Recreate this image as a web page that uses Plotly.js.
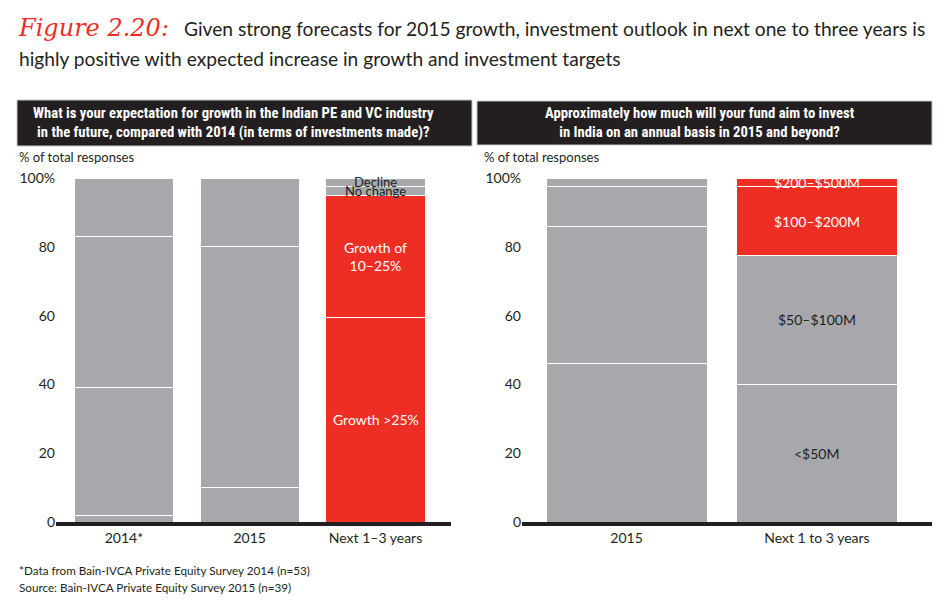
<!DOCTYPE html>
<html>
<head>
<meta charset="utf-8">
<script src="https://cdn.plot.ly/plotly-3.0.1.min.js"></script>
<style>
  html, body { margin: 0; padding: 0; background: #fff; }
  #chart { width: 950px; height: 604px; }
</style>
</head>
<body>
<div id="chart"></div>
<script>
// Left panel: expectation for growth (% of total responses)
const growthCats = ["2014*", "2015", "Next 1–3 years"];
const growthSeries = ["Growth >25%", "Growth of<br>10–25%", "No change", "Decline"];
const growthAbove25 = [2, 10, 59.5];
const growth10to25 = [37, 70, 35.5];
const noChange = [44, 20, 2.5];
const decline = [17, 0, 2.5];

// Right panel: annual investment aim (% of total responses)
const investCats = ["2015", "Next 1 to 3 years"];
const investSeries = ["<$50M", "$50–$100M", "$100–$200M", "$200–$500M"];
const under50 = [46, 40];
const from50to100 = [40, 37.5];
const from100to200 = [11.5, 20];
const from200to500 = [2.5, 2.5];

const yTicks = [0, 20, 40, 60, 80, 100];
const yTickText = ["0", "20", "40", "60", "80", "100%"];

const GREY = "#a7a8ac";
const RED = "#ee2e24";
const DARK = "#231f20";
const FONT = "Lato, 'Open Sans', sans-serif";
const NARROW = "'Liberation Sans Narrow', 'Roboto Condensed', sans-serif";

const px = x => x / 950;
const py = y => 1 - y / 604;

// which segments are red (the rest grey)
const growthRed = [[false, false, true], [false, false, true], [false, false, false], [false, false, false]];
const investRed = [[false, false], [false, false], [false, true], [false, true]];

const traces = [];
const annotations = [];

function addStack(series, values, cats, redMap, xa, ya, width, labelOn, darkLabels, sizes) {
  const base = cats.map(() => 0);
  series.forEach((name, i) => {
    traces.push({
      type: "bar",
      name: name,
      x: cats,
      y: values[i],
      xaxis: xa,
      yaxis: ya,
      width: width,
      marker: {
        color: redMap[i].map(r => r ? RED : GREY),
        line: { color: "#ffffff", width: 1 }
      },
      hoverinfo: "none",
      showlegend: false
    });
    const mid = base[labelOn] + values[i][labelOn] / 2;
    annotations.push({
      xref: xa, yref: ya,
      x: cats[labelOn], y: mid,
      text: name,
      showarrow: false,
      font: { family: FONT, size: sizes[i], color: darkLabels[i] ? DARK : "#ffffff" }
    });
    cats.forEach((c, k) => { base[k] += values[i][k]; });
  });
}

addStack(growthSeries, [growthAbove25, growth10to25, noChange, decline], growthCats,
  growthRed, "x", "y", 0.79, 2, [false, false, true, true], [14, 14, 13, 13]);
addStack(investSeries, [under50, from50to100, from100to200, from200to500], investCats,
  investRed, "x2", "y2", 0.845, 1, [true, true, false, false], [14, 14, 14, 14]);

// headers and notes
annotations.push(
  { xref: "paper", yref: "paper", x: px(16), y: py(28), xanchor: "left", yanchor: "middle",
    text: "Figure 2.20:", showarrow: false,
    font: { family: "'DejaVu Serif', serif", size: 24, color: RED, style: "italic" } },
  { xref: "paper", yref: "paper", x: px(182), y: py(28), xanchor: "left", yanchor: "middle",
    text: "Given strong forecasts for 2015 growth, investment outlook in next one to three years is",
    showarrow: false, font: { family: FONT, size: 19.2, color: DARK } },
  { xref: "paper", yref: "paper", x: px(17), y: py(58), xanchor: "left", yanchor: "middle",
    text: "highly positive with expected increase in growth and investment targets",
    showarrow: false, font: { family: FONT, size: 19.2, color: DARK } },
  { xref: "paper", yref: "paper", x: px(233), y: py(122), xanchor: "center", yanchor: "middle",
    text: "<b>What is your expectation for growth in the Indian PE and VC industry<br>in the future, compared with 2014 (in terms of investments made)?</b>",
    showarrow: false, font: { family: NARROW, size: 14.7, color: "#ffffff" } },
  { xref: "paper", yref: "paper", x: px(700), y: py(122), xanchor: "center", yanchor: "middle",
    text: "<b>Approximately how much will your fund aim to invest<br>in India on an annual basis in 2015 and beyond?</b>",
    showarrow: false, font: { family: NARROW, size: 14.7, color: "#ffffff" } },
  { xref: "paper", yref: "paper", x: px(17), y: py(157), xanchor: "left", yanchor: "middle",
    text: "% of total responses", showarrow: false, font: { family: FONT, size: 13, color: DARK } },
  { xref: "paper", yref: "paper", x: px(482), y: py(157), xanchor: "left", yanchor: "middle",
    text: "% of total responses", showarrow: false, font: { family: FONT, size: 13, color: DARK } },
  { xref: "paper", yref: "paper", x: px(17), y: py(570), xanchor: "left", yanchor: "middle",
    text: "*Data from Bain-IVCA Private Equity Survey 2014 (n=53)", showarrow: false,
    font: { family: FONT, size: 11.7, color: DARK } },
  { xref: "paper", yref: "paper", x: px(17), y: py(587), xanchor: "left", yanchor: "middle",
    text: "Source: Bain-IVCA Private Equity Survey 2015 (n=39)", showarrow: false,
    font: { family: FONT, size: 11.7, color: DARK } }
);

const shapes = [
  { type: "rect", xref: "paper", yref: "paper", x0: px(17), x1: px(472), y0: py(146), y1: py(100),
    fillcolor: DARK, line: { color: "#c8c8c8", width: 1 } },
  { type: "rect", xref: "paper", yref: "paper", x0: px(477), x1: px(932), y0: py(145), y1: py(101),
    fillcolor: DARK, line: { color: "#c8c8c8", width: 1 } }
];

const xBase = {
  type: "category",
  showline: true, linecolor: DARK, linewidth: 4,
  ticks: "", showgrid: false, zeroline: false,
  tickfont: { family: FONT, size: 14, color: DARK },
  fixedrange: true
};
const yBase = {
  range: [0, 100], tickvals: yTicks, ticktext: yTickText,
  showline: false, showgrid: false, zeroline: false, ticks: "",
  tickfont: { family: FONT, size: 14, color: DARK },
  fixedrange: true
};

const layout = {
  width: 950, height: 604,
  margin: { l: 0, r: 0, t: 0, b: 0 },
  paper_bgcolor: "#ffffff", plot_bgcolor: "#ffffff",
  barmode: "stack",
  font: { family: FONT, color: DARK },
  xaxis: Object.assign({}, xBase, { domain: [px(56), px(451)], range: [-0.54, 2.6], anchor: "y" }),
  yaxis: Object.assign({}, yBase, { domain: [py(522), py(178)], anchor: "x" }),
  xaxis2: Object.assign({}, xBase, { domain: [px(522), px(932)], range: [-0.549, 1.604], anchor: "y2" }),
  yaxis2: Object.assign({}, yBase, { domain: [py(522), py(178)], anchor: "x2" }),
  annotations: annotations,
  shapes: shapes
};

Plotly.newPlot("chart", traces, layout, { displayModeBar: false, staticPlot: true });
</script>
</body>
</html>
